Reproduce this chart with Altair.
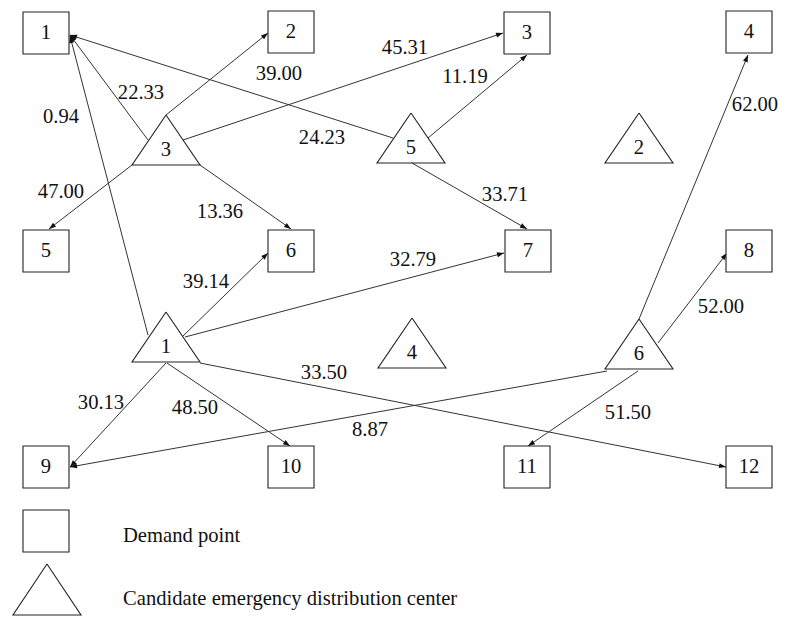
import math
import altair as alt
import pandas as pd

# ---- demand points (squares): id and centre position in the drawing ----
sq_ids = ["1", "2", "3", "4", "5", "6", "7", "8", "9", "10", "11", "12"]
sq_x = [46, 291, 527, 749, 46, 291, 528, 749, 46, 291, 527, 749]
sq_y = [33, 32, 33, 32, 251, 251, 251, 251, 467, 467, 467, 467]

# ---- candidate distribution centres (triangles): id and apex position ----
tri_ids = ["3", "5", "2", "1", "4", "6"]
tri_x = [166, 411, 639, 166, 412, 639]
tri_y = [115, 113, 113, 312, 318, 319]

# ---- routes: from centre to demand point, with distance labels ----
edge_from = ["3", "3", "3", "3", "3", "5", "5", "5", "1", "1", "1", "1", "1", "1", "6", "6", "6", "6"]
edge_to = ["1", "2", "3", "5", "6", "1", "3", "7", "1", "6", "7", "9", "10", "12", "4", "8", "11", "9"]
edge_x1 = [148, 166, 183, 132, 200, 393, 428, 412, 148, 183, 185, 166, 167, 200, 639, 658, 638, 607]
edge_y1 = [140, 115, 140, 165, 165, 138, 138, 163, 335, 336, 337, 363, 363, 363, 319, 343, 371, 371]
edge_x2 = [70, 268, 503, 49, 291, 70, 527, 527, 70, 268, 504, 70, 290, 726, 748, 727, 528, 70]
edge_y2 = [35, 33, 33, 229, 229, 35, 55, 229, 36, 253, 253, 467, 446, 467, 55, 253, 446, 467]
edge_label = ["22.33", "39.00", "45.31", "47.00", "13.36", "24.23", "11.19", "33.71", "0.94",
              "39.14", "32.79", "30.13", "48.50", "33.50", "62.00", "52.00", "51.50", "8.87"]
label_x = [141, 279, 405, 61, 220, 322, 465, 505, 61, 206, 413, 101, 195, 324, 755, 721, 628, 370]
label_y = [93, 74, 48, 192, 212, 138, 77, 195, 117, 282, 260, 403, 408, 373, 105, 307, 413, 430]

# ---- legend ----
legend_text = ["Demand point", "Candidate emergency distribution center"]
legend_sq = (46, 531)
legend_tri = (47, 564)
legend_text_x = 123
legend_text_y = [536, 599]

SQ_HW, SQ_HH = 23, 21
TRI_HW, TRI_H = 34, 50
FONT = "Liberation Serif"
FS = 20.6

W, H = 771, 609
xs = alt.Scale(domain=[8, 8 + W], nice=False, zero=False)
ys = alt.Scale(domain=[8 + H, 8], nice=False, zero=False)

# squares table
sq_rows = []
for i, x, y in zip(sq_ids, sq_x, sq_y):
    sq_rows.append(dict(id=i, x=x - SQ_HW, x2=x + SQ_HW, y=y - SQ_HH, y2=y + SQ_HH, cx=x, cy=y))
sq_rows.append(dict(id="", x=legend_sq[0] - SQ_HW, x2=legend_sq[0] + SQ_HW,
                    y=legend_sq[1] - SQ_HH, y2=legend_sq[1] + SQ_HH, cx=legend_sq[0], cy=legend_sq[1]))
sq_df = pd.DataFrame(sq_rows)

# triangles outline table
tri_rows = []
tri_lab = []
all_tri = list(zip(tri_ids, tri_x, tri_y)) + [("L", legend_tri[0], legend_tri[1])]
for i, ax, ay in all_tri:
    h = TRI_H + (1 if i == "L" else 0)
    pts = [(ax, ay), (ax + TRI_HW, ay + h), (ax - TRI_HW, ay + h), (ax, ay)]
    for k, (px, py) in enumerate(pts):
        tri_rows.append(dict(id=i, o=k, x=px, y=py))
    if i != "L":
        tri_lab.append(dict(id=i, x=ax, y=ay + 35))
tri_df = pd.DataFrame(tri_rows)
tri_lab_df = pd.DataFrame(tri_lab)

edges = pd.DataFrame(dict(src=edge_from, dst=edge_to, x1=edge_x1, y1=edge_y1,
                          x2=edge_x2, y2=edge_y2, label=edge_label, lx=label_x, ly=label_y))
edges["ang"] = [
    (math.degrees(math.atan2(x2 - x1, -(y2 - y1))) + 360) % 360
    for x1, y1, x2, y2 in zip(edges.x1, edges.y1, edges.x2, edges.y2)
]

leg_df = pd.DataFrame(dict(t=legend_text, x=[legend_text_x] * 2, y=legend_text_y))

LINE = "#333333"

squares = alt.Chart(sq_df).mark_rect(fill="white", stroke="#222222", strokeWidth=1.1).encode(
    x=alt.X("x:Q", scale=xs, axis=None), x2="x2:Q",
    y=alt.Y("y:Q", scale=ys, axis=None), y2="y2:Q",
)
sq_text = alt.Chart(sq_df).mark_text(font=FONT, fontSize=FS, color="#111111", baseline="middle").encode(
    x=alt.X("cx:Q", scale=xs, axis=None), y=alt.Y("cy:Q", scale=ys, axis=None), text="id:N"
)
triangles = alt.Chart(tri_df).mark_line(color="#222222", strokeWidth=1.1).encode(
    x=alt.X("x:Q", scale=xs, axis=None), y=alt.Y("y:Q", scale=ys, axis=None),
    detail="id:N", order="o:Q",
)
tri_text = alt.Chart(tri_lab_df).mark_text(font=FONT, fontSize=FS, color="#111111", baseline="middle").encode(
    x=alt.X("x:Q", scale=xs, axis=None), y=alt.Y("y:Q", scale=ys, axis=None), text="id:N"
)
rules = alt.Chart(edges).mark_rule(color=LINE, strokeWidth=1).encode(
    x=alt.X("x1:Q", scale=xs, axis=None), y=alt.Y("y1:Q", scale=ys, axis=None),
    x2="x2:Q", y2="y2:Q",
)
arrow_path = "M0,0 L0.36,1 L-0.36,1 Z"
heads = alt.Chart(edges).mark_point(shape=arrow_path, filled=True, size=196, color="#111111", opacity=1).encode(
    x=alt.X("x2:Q", scale=xs, axis=None), y=alt.Y("y2:Q", scale=ys, axis=None),
    angle=alt.Angle("ang:Q", scale=None),
)
edge_text = alt.Chart(edges).mark_text(font=FONT, fontSize=FS, color="#111111", baseline="middle").encode(
    x=alt.X("lx:Q", scale=xs, axis=None), y=alt.Y("ly:Q", scale=ys, axis=None), text="label:N"
)
legend = alt.Chart(leg_df).mark_text(font=FONT, fontSize=FS, color="#111111", align="left", baseline="middle").encode(
    x=alt.X("x:Q", scale=xs, axis=None), y=alt.Y("y:Q", scale=ys, axis=None), text="t:N"
)

chart = alt.layer(rules, heads, squares, triangles, sq_text, tri_text, edge_text, legend).properties(
    width=W, height=H, padding=0, autosize=alt.AutoSizeParams(type="none"), background="white"
).configure_view(stroke=None)

chart.save("out.html", embed_options={"renderer": "svg", "actions": False})
